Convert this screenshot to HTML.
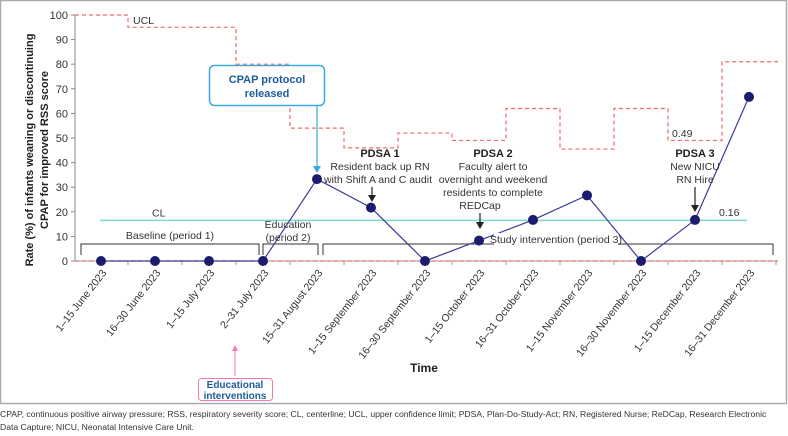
<!DOCTYPE html>
<html><head><meta charset="utf-8">
<style>
body{margin:0;background:#fff;font-family:"Liberation Sans",sans-serif;}
#wrap{position:relative;width:788px;height:436px;overflow:hidden;}
svg text{font-family:"Liberation Sans Narrow","Liberation Sans",sans-serif;}
</style></head>
<body><div id="wrap">
<svg id="chart" width="788" height="436" viewBox="0 0 788 436"></svg>
</div>
<script>
const categories=["1–15 June 2023","16–30 June 2023","1–15 July 2023","2–31 July 2023","15–31 August 2023","1–15 September 2023","16–30 September 2023","1–15 October 2023","16–31 October 2023","1–15 November 2023","16–30 November 2023","1–15 December 2023","16–31 December 2023"];
const rateValues=[0,0,0,0,33.3,21.7,0,8.3,16.7,26.7,0,16.7,66.7];
const uclValues=[100,95,95,80,54,46,52,49,62,45.5,62,49,81];
const centerline=[16.5];
const yTicks=[0,10,20,30,40,50,60,70,80,90,100];

const svg=document.getElementById('chart');
const NS='http://www.w3.org/2000/svg';
const X0=101,DX=54,Y0=261,YS=2.46,AX=75,AXR=778;
function xs(i){return X0+i*DX;}
function ys(v){return Y0-v*YS;}
function mk(tag,attrs,parent){const e=document.createElementNS(NS,tag);for(const k in attrs)e.setAttribute(k,attrs[k]);(parent||svg).appendChild(e);return e;}
function txt(s,attrs,parent){const e=mk('text',attrs,parent);e.textContent=s;return e;}

let fr=mk('rect',{x:0.5,y:0.5,width:786,height:403,fill:'none',stroke:'#aaa','stroke-width':1.5});



let ya=mk('line',{x1:AX,y1:ys(100),x2:AX,y2:Y0,stroke:'#888','stroke-width':1});


yTicks.forEach(t=>{
  mk('line',{x1:AX-4,y1:ys(t),x2:AX,y2:ys(t),stroke:'#888'});
  let l=txt(String(t),{x:AX-7,y:ys(t)+4,'text-anchor':'end','font-size':11,fill:'#333'});
  
  
});
let xa=mk('line',{x1:AX,y1:Y0,x2:AXR,y2:Y0,stroke:'#999','stroke-width':1});


categories.forEach((c,i)=>{
  mk('line',{x1:xs(i)+DX/2,y1:Y0,x2:xs(i)+DX/2,y2:Y0+4,stroke:'#999'});
  let l=txt(c,{x:0,y:0,'text-anchor':'end','font-size':10.5,fill:'#333',transform:`translate(${xs(i)+6},${Y0+12}) rotate(-52)`});
  
  
});
let lcl=mk('line',{x1:AX,y1:Y0,x2:AXR,y2:Y0,stroke:'#f06a6a','stroke-width':1.2,'stroke-dasharray':'4,3'});


let d='';
uclValues.forEach((v,i)=>{
  const a=i===0?AX:xs(i)-DX/2, b=i===uclValues.length-1?AXR:xs(i)+DX/2;
  d+=(i===0?'M':'L')+a+','+ys(v)+'L'+b+','+ys(v);
});
let ucl=mk('path',{d:d,fill:'none',stroke:'#f06a6a','stroke-width':1.2,'stroke-dasharray':'4,3'});


let cl=mk('line',{x1:100,y1:ys(centerline[0]),x2:747,y2:ys(centerline[0]),stroke:'#7fd6d3','stroke-width':1.5});


txt('CL',{x:152,y:ys(centerline[0])-4,'font-size':10.5,fill:'#333'});
txt('UCL',{x:133,y:24,'font-size':10.5,fill:'#333'});
txt('0.49',{x:672,y:137,'font-size':10.5,fill:'#333'});
txt('0.16',{x:719,y:216,'font-size':10.5,fill:'#333'});

function bracket(a,b,name){let p=mk('path',{d:`M${a},255L${a},244L${b},244L${b},255`,fill:'none',stroke:'#333','stroke-width':1});}
bracket(81,259,'baseline-bracket');bracket(263,318,'education-bracket');bracket(323,773,'study-bracket');
txt('Baseline (period 1)',{x:170,y:239,'text-anchor':'middle','font-size':10.5,fill:'#333'});

let pd='';
rateValues.forEach((v,i)=>{pd+=(i?'L':'M')+xs(i)+','+ys(v);});
let ln=mk('path',{d:pd,fill:'none',stroke:'#3b3b9a','stroke-width':1.2});


rateValues.forEach((v,i)=>{
  let c=mk('circle',{cx:xs(i),cy:ys(v),r:5,fill:'#1c1c6e'});
  
  
});
txt('Education',{x:288,y:228,'text-anchor':'middle','font-size':10.5,fill:'#333'});
txt('(period 2)',{x:288,y:241,'text-anchor':'middle','font-size':10.5,fill:'#333'});
mk('rect',{x:494,y:233,width:124,height:12,fill:'#fff'});
txt('Study intervention (period 3)',{x:556,y:243,'text-anchor':'middle','font-size':10.5,fill:'#333'});

function arrow(x,y1,y2,col){mk('line',{x1:x,y1:y1,x2:x,y2:y2-6,stroke:col,'stroke-width':1.2});mk('path',{d:`M${x-4},${y2-7}L${x+4},${y2-7}L${x},${y2}Z`,fill:col});}
let cb=mk('rect',{x:209.5,y:65.5,width:115,height:40,rx:5,fill:'#fff',stroke:'#3aa9e0','stroke-width':1.5});


txt('CPAP protocol',{x:267,y:83,'text-anchor':'middle','font-size':11,'font-weight':'bold',fill:'#1d5c9c'});
txt('released',{x:267,y:97,'text-anchor':'middle','font-size':11,'font-weight':'bold',fill:'#1d5c9c'});
arrow(317,106,173,'#3aa9e0');
txt('PDSA 1',{x:380,y:157,'text-anchor':'middle','font-size':11,'font-weight':'bold',fill:'#222'});
txt('Resident back up RN',{x:380,y:170,'text-anchor':'middle','font-size':10.5,fill:'#333'});
txt('with Shift A and C audit',{x:378,y:183,'text-anchor':'middle','font-size':10.5,fill:'#333'});
arrow(372,187,202,'#222');
txt('PDSA 2',{x:493,y:157,'text-anchor':'middle','font-size':11,'font-weight':'bold',fill:'#222'});
txt('Faculty alert to',{x:493,y:170,'text-anchor':'middle','font-size':10.5,fill:'#333'});
txt('overnight and weekend',{x:493,y:183,'text-anchor':'middle','font-size':10.5,fill:'#333'});
txt('residents to complete',{x:493,y:196,'text-anchor':'middle','font-size':10.5,fill:'#333'});
txt('REDCap',{x:480,y:209,'text-anchor':'middle','font-size':10.5,fill:'#333'});
arrow(480,213,229,'#222');
txt('PDSA 3',{x:695,y:157,'text-anchor':'middle','font-size':11,'font-weight':'bold',fill:'#222'});
txt('New NICU',{x:695,y:170,'text-anchor':'middle','font-size':10.5,fill:'#333'});
txt('RN Hire',{x:695,y:183,'text-anchor':'middle','font-size':10.5,fill:'#333'});
arrow(695,187,212,'#222');

let yt=txt('',{transform:'translate(38,150) rotate(-90)','text-anchor':'middle','font-size':11,'font-weight':'bold',fill:'#222'});


let t1=mk('tspan',{x:0,y:-5},yt);t1.textContent='Rate (%) of infants weaning or discontinuing';
let t2=mk('tspan',{x:0,y:10},yt);t2.textContent='CPAP for improved RSS score';
let xt=txt('Time',{x:424,y:372,'text-anchor':'middle','font-size':12,'font-weight':'bold',fill:'#222'});


mk('line',{x1:235,y1:376,x2:235,y2:350,stroke:'#f07ab8','stroke-width':1});
mk('path',{d:'M232,351L238,351L235,345Z',fill:'#f07ab8'});
let eb=mk('rect',{x:198.5,y:378.5,width:74,height:22,rx:3,fill:'#fff',stroke:'#f07ab8','stroke-width':1});


txt('Educational',{x:235,y:388,'text-anchor':'middle','font-size':10,'font-weight':'bold',fill:'#1d5c9c'});
txt('interventions',{x:235,y:399,'text-anchor':'middle','font-size':10,'font-weight':'bold',fill:'#1d5c9c'});
let cp=txt('CPAP, continuous positive airway pressure; RSS, respiratory severity score; CL, centerline; UCL, upper confidence limit; PDSA, Plan-Do-Study-Act; RN, Registered Nurse; ReDCap, Research Electronic',{x:0,y:417,'font-size':8.6,fill:'#333'});


txt('Data Capture; NICU, Neonatal Intensive Care Unit.',{x:0,y:430,'font-size':8.6,fill:'#333'});
</script>
</body></html>
